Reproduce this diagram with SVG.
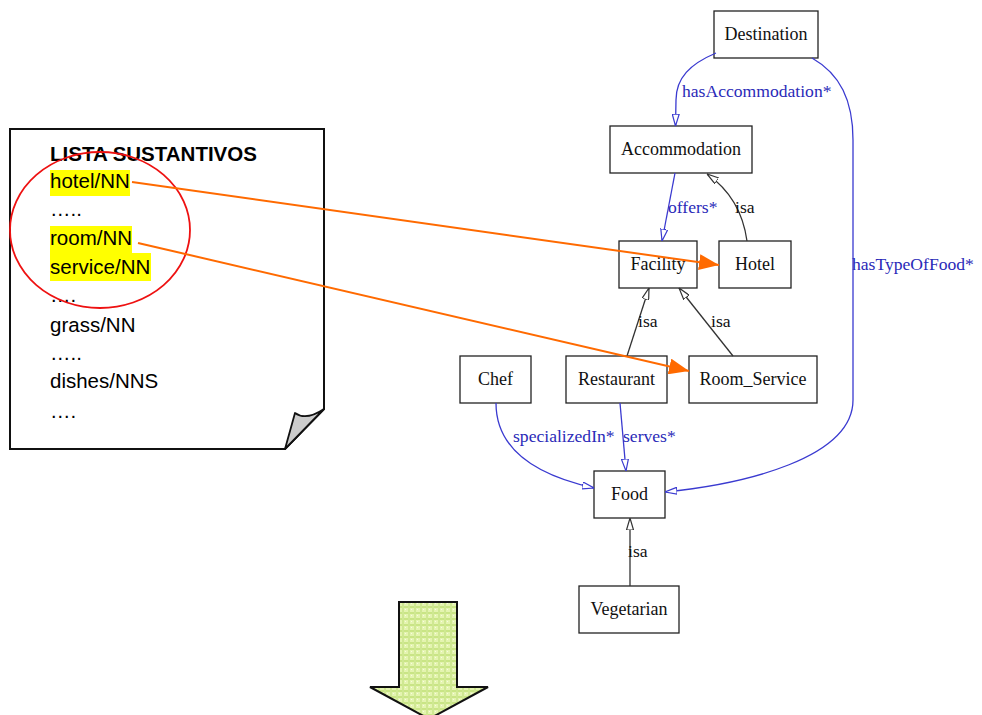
<svg xmlns="http://www.w3.org/2000/svg" width="982" height="715" viewBox="0 0 982 715">
  <defs>
    <style>
      .node rect { fill: #ffffff; stroke: #222222; stroke-width: 1.3; }
      .node text { font-family: "Liberation Serif", "Times New Roman", serif; font-size: 18px; fill: #111111; text-anchor: middle; }
      .rel { fill: none; stroke: #3a3ad0; stroke-width: 1.3; }
      .isa { fill: none; stroke: #333333; stroke-width: 1.3; }
      .lbl { font-family: "Liberation Serif", "Times New Roman", serif; font-size: 17.6px; }
      .lbl-rel { fill: #2a2ab8; }
      .lbl-isa { fill: #111111; }
      .link { fill: none; stroke: #ff6a00; stroke-width: 2; }
      .doc { font-family: "Liberation Sans", Arial, sans-serif; font-size: 20.5px; fill: #000000; }
      .hl { fill: #ffff00; }
    </style>
    <marker id="openBlue" viewBox="0 0 12 8" refX="12" refY="4" markerWidth="12" markerHeight="8" markerUnits="userSpaceOnUse" orient="auto">
      <path d="M0,0.5 L12,4 L0,7.5 Z" fill="#ffffff" stroke="#3a3ad0" stroke-width="1.2"/>
    </marker>
    <marker id="openBlack" viewBox="0 0 12 8" refX="12" refY="4" markerWidth="12" markerHeight="8" markerUnits="userSpaceOnUse" orient="auto">
      <path d="M0,0.5 L12,4 L0,7.5 Z" fill="#ffffff" stroke="#333333" stroke-width="1.2"/>
    </marker>
    <marker id="solidOrange" viewBox="0 0 20 16" refX="20" refY="8" markerWidth="20" markerHeight="16" markerUnits="userSpaceOnUse" orient="auto">
      <path d="M0,0 L20,8 L0,16 Z" fill="#ff6a00"/>
    </marker>
    <pattern id="plaid" width="6" height="6" patternUnits="userSpaceOnUse">
      <rect width="6" height="6" fill="#e4f4b0"/>
      <rect x="0" y="0" width="6" height="2" fill="#c9e585"/>
      <rect x="0" y="0" width="2" height="6" fill="#cfe892"/>
      <rect x="3" y="3" width="1" height="1" fill="#f6fbe2"/>
    </pattern>
  </defs>

  <rect width="982" height="715" fill="#ffffff"/>

  <!-- noun list sheet with folded corner -->
  <g id="noun-list">
    <path d="M10,129 L324,129 L324,409 L285,449 L10,449 Z" fill="#ffffff" stroke="#111111" stroke-width="2"/>
    <path d="M285,449 L295,413 Q306,421 324,409 Z" fill="#cccccc" stroke="#111111" stroke-width="1.8" stroke-linejoin="round"/>
    <rect class="hl" x="50" y="170" width="80" height="26"/>
    <rect class="hl" x="50" y="226" width="82" height="28"/>
    <rect class="hl" x="50" y="253" width="101" height="28"/>
    <text class="doc" x="50" y="161" font-weight="bold" font-size="21">LISTA SUSTANTIVOS</text>
    <text class="doc" x="50" y="188">hotel/NN</text>
    <text class="doc" x="50" y="216">…..</text>
    <text class="doc" x="50" y="245">room/NN</text>
    <text class="doc" x="50" y="274">service/NN</text>
    <text class="doc" x="50" y="302">….</text>
    <text class="doc" x="50" y="332">grass/NN</text>
    <text class="doc" x="50" y="360">…..</text>
    <text class="doc" x="50" y="388">dishes/NNS</text>
    <text class="doc" x="50" y="418">….</text>
    <ellipse cx="100" cy="230" rx="90" ry="78" fill="none" stroke="#ee1111" stroke-width="1.8"/>
  </g>

  <!-- ontology graph nodes -->
  <g id="Destination" class="node"><rect x="714" y="11" width="104" height="47"/><text x="766" y="40">Destination</text></g>
  <g id="Accommodation" class="node"><rect x="610" y="126" width="142" height="47"/><text x="681" y="155">Accommodation</text></g>
  <g id="Facility" class="node"><rect x="619" y="241" width="78" height="47"/><text x="658" y="270">Facility</text></g>
  <g id="Hotel" class="node"><rect x="719" y="241" width="72" height="47"/><text x="755" y="270">Hotel</text></g>
  <g id="Chef" class="node"><rect x="460" y="356" width="71" height="47"/><text x="495.5" y="385">Chef</text></g>
  <g id="Restaurant" class="node"><rect x="566" y="356" width="101" height="47"/><text x="616.5" y="385">Restaurant</text></g>
  <g id="Room_Service" class="node"><rect x="689" y="356" width="128" height="47"/><text x="753" y="385">Room_Service</text></g>
  <g id="Food" class="node"><rect x="594" y="471" width="71" height="47"/><text x="629.5" y="500">Food</text></g>
  <g id="Vegetarian" class="node"><rect x="579" y="586" width="100" height="47"/><text x="629" y="615">Vegetarian</text></g>

  <!-- connectors -->
  <g id="connectors">
    <path class="rel" d="M716,53 C690,64 676,78 676,100 L675.5,126" marker-end="url(#openBlue)"/>
    <path class="rel" d="M812,58 C840,74 853,100 853,140 L853,400 C853,458 745,484 665,492" marker-end="url(#openBlue)"/>
    <path class="rel" d="M675,173 L662,241" marker-end="url(#openBlue)"/>
    <path class="isa" d="M747,241 C743,212 730,190 707,174" marker-end="url(#openBlack)"/>
    <path class="isa" d="M627,356 L649,288" marker-end="url(#openBlack)"/>
    <path class="isa" d="M733,356 L679,288" marker-end="url(#openBlack)"/>
    <path class="rel" d="M496,403 C496,452 540,476 594,488" marker-end="url(#openBlue)"/>
    <path class="rel" d="M620,403 L626,471" marker-end="url(#openBlue)"/>
    <path class="isa" d="M630,586 L630,518" marker-end="url(#openBlack)"/>

    <text class="lbl lbl-rel" x="682" y="97">hasAccommodation*</text>
    <text class="lbl lbl-rel" x="852" y="270">hasTypeOfFood*</text>
    <text class="lbl lbl-rel" x="668" y="213">offers*</text>
    <text class="lbl lbl-isa" x="735" y="213">isa</text>
    <text class="lbl lbl-isa" x="638" y="327">isa</text>
    <text class="lbl lbl-isa" x="711" y="327">isa</text>
    <text class="lbl lbl-rel" x="513" y="442">specializedIn*</text>
    <text class="lbl lbl-rel" x="623" y="442">serves*</text>
    <text class="lbl lbl-isa" x="628" y="557">isa</text>

    <!-- noun-to-concept links -->
    <path class="link" d="M132,182 L719,265" marker-end="url(#solidOrange)"/>
    <path class="link" d="M138,243 L689,371" marker-end="url(#solidOrange)"/>
  </g>

  <!-- block arrow -->
  <g id="down-arrow">
    <path d="M399,602 L457,602 L457,687 L488,687 L429,719 L370,687 L399,687 Z" fill="url(#plaid)" stroke="#111111" stroke-width="2" stroke-linejoin="miter"/>
  </g>
</svg>
